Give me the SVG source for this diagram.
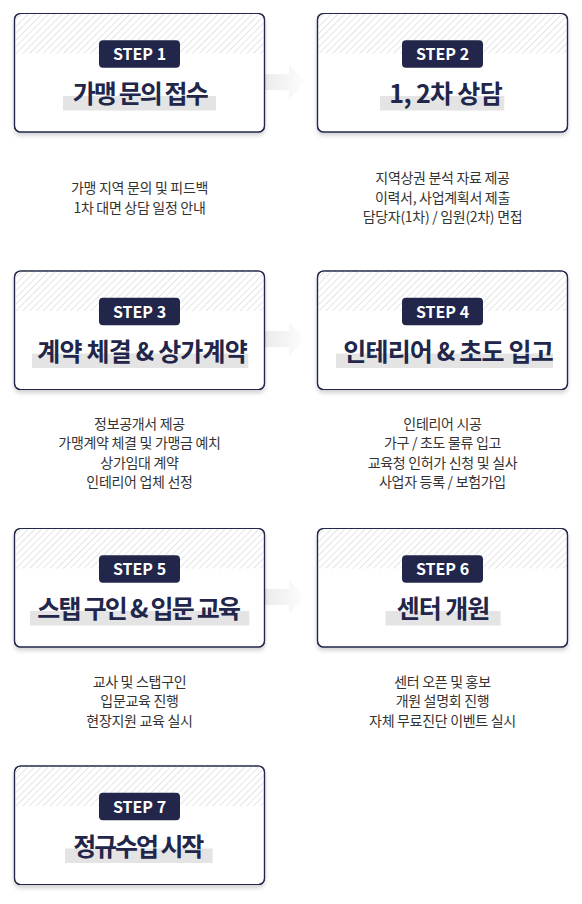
<svg xmlns="http://www.w3.org/2000/svg" width="582" height="904" viewBox="0 0 582 904">
<style>
.box{fill:#fff;stroke:#23284a;stroke-width:1.2}
.frame{fill:none;stroke:#23284a;stroke-width:1.2}
.hatch{fill:url(#hatch)}
.badge{fill:#21264a}
.badge-t{font-family:"Noto Sans CJK KR","Noto Sans",sans-serif;font-weight:700;font-size:16px;fill:#fff;text-anchor:middle}
.hl{fill:#e4e4e4}
.title{font-family:"Noto Sans CJK KR",sans-serif;font-weight:700;font-size:25px;fill:#21264a;text-anchor:middle;letter-spacing:-1px}
.desc{font-family:"Noto Sans CJK KR",sans-serif;font-size:14px;fill:#333;text-anchor:middle;letter-spacing:-0.3px}
.arrow{fill:url(#agrad)}
</style>
<defs>
<pattern id="hatch" patternUnits="userSpaceOnUse" width="4.8" height="4.8" patternTransform="rotate(45)">
<line x1="0.5" y1="0" x2="0.5" y2="4.8" stroke="#dadada" stroke-width="0.7"/>
</pattern>
<clipPath id="boxclip" clipPathUnits="userSpaceOnUse"><rect x="0" y="0" width="250" height="118.5" rx="6"/></clipPath>
<linearGradient id="agrad" x1="0" y1="0" x2="1" y2="0">
<stop offset="0.25" stop-color="#ebebeb"/>
<stop offset="1" stop-color="#fdfdfd"/>
</linearGradient>
<filter id="sh" x="-10%" y="-10%" width="120%" height="130%">
<feDropShadow dx="0" dy="3" stdDeviation="2" flood-color="#000" flood-opacity="0.18"/>
</filter>
</defs>

<g id="connectors">
<polygon class="arrow" points="250,74 289,74 289,65 305,82 289,99 289,90 250,90"/>
<polygon class="arrow" points="250,331 289,331 289,322 305,339 289,356 289,347 250,347"/>
<polygon class="arrow" points="250,589 289,589 289,580 305,597 289,614 289,605 250,605"/>
</g>

<g id="step1" transform="translate(14.5,13.5)">
<rect class="box" x="0" y="0" width="250" height="118.5" rx="6" filter="url(#sh)"/>
<rect class="hatch" x="0" y="0" width="250" height="40" clip-path="url(#boxclip)"/>
<rect class="frame" x="0" y="0" width="250" height="118.5" rx="6"/>
<rect class="badge" x="84.5" y="26.7" width="81" height="27.5" rx="4"/>
<text class="badge-t" x="125" y="46.7">STEP 1</text>
<rect class="hl" x="48.5" y="82.5" width="153" height="14.5"/>
<text class="title" x="125.7" y="89.5" textLength="135" lengthAdjust="spacing">가맹 문의 접수</text>
</g>

<g id="step2" transform="translate(317.5,13.5)">
<rect class="box" x="0" y="0" width="250" height="118.5" rx="6" filter="url(#sh)"/>
<rect class="hatch" x="0" y="0" width="250" height="40" clip-path="url(#boxclip)"/>
<rect class="frame" x="0" y="0" width="250" height="118.5" rx="6"/>
<rect class="badge" x="84.5" y="26.7" width="81" height="27.5" rx="4"/>
<text class="badge-t" x="125" y="46.7">STEP 2</text>
<rect class="hl" x="62.5" y="82.5" width="124.3" height="14.5"/>
<text class="title" x="128" y="89.5" textLength="112.4" lengthAdjust="spacing">1, 2차 상담</text>
</g>

<g id="step3" transform="translate(14.5,271)">
<rect class="box" x="0" y="0" width="250" height="118.5" rx="6" filter="url(#sh)"/>
<rect class="hatch" x="0" y="0" width="250" height="40" clip-path="url(#boxclip)"/>
<rect class="frame" x="0" y="0" width="250" height="118.5" rx="6"/>
<rect class="badge" x="84.5" y="26.7" width="81" height="27.5" rx="4"/>
<text class="badge-t" x="125" y="46.7">STEP 3</text>
<rect class="hl" x="17.5" y="82.5" width="216.3" height="14.5"/>
<text class="title" x="127.5" y="89.5" textLength="209.4" lengthAdjust="spacing">계약 체결 &amp; 상가계약</text>
</g>

<g id="step4" transform="translate(317.5,271)">
<rect class="box" x="0" y="0" width="250" height="118.5" rx="6" filter="url(#sh)"/>
<rect class="hatch" x="0" y="0" width="250" height="40" clip-path="url(#boxclip)"/>
<rect class="frame" x="0" y="0" width="250" height="118.5" rx="6"/>
<rect class="badge" x="84.5" y="26.7" width="81" height="27.5" rx="4"/>
<text class="badge-t" x="125" y="46.7">STEP 4</text>
<rect class="hl" x="18.5" y="82.5" width="217" height="14.5"/>
<text class="title" x="130.5" y="89.5" textLength="209.4" lengthAdjust="spacing">인테리어 &amp; 초도 입고</text>
</g>

<g id="step5" transform="translate(14.5,528.5)">
<rect class="box" x="0" y="0" width="250" height="118.5" rx="6" filter="url(#sh)"/>
<rect class="hatch" x="0" y="0" width="250" height="40" clip-path="url(#boxclip)"/>
<rect class="frame" x="0" y="0" width="250" height="118.5" rx="6"/>
<rect class="badge" x="84.5" y="26.7" width="81" height="27.5" rx="4"/>
<text class="badge-t" x="125" y="46.7">STEP 5</text>
<rect class="hl" x="15.5" y="82.5" width="219.3" height="14.5"/>
<text class="title" x="124.2" y="89.5" textLength="202.7" lengthAdjust="spacing">스탭 구인 &amp; 입문 교육</text>
</g>

<g id="step6" transform="translate(317.5,528.5)">
<rect class="box" x="0" y="0" width="250" height="118.5" rx="6" filter="url(#sh)"/>
<rect class="hatch" x="0" y="0" width="250" height="40" clip-path="url(#boxclip)"/>
<rect class="frame" x="0" y="0" width="250" height="118.5" rx="6"/>
<rect class="badge" x="84.5" y="26.7" width="81" height="27.5" rx="4"/>
<text class="badge-t" x="125" y="46.7">STEP 6</text>
<rect class="hl" x="68" y="82.5" width="115" height="14.5"/>
<text class="title" x="125.5" y="89.5">센터 개원</text>
</g>

<g id="step7" transform="translate(14.5,766)">
<rect class="box" x="0" y="0" width="250" height="118.5" rx="6" filter="url(#sh)"/>
<rect class="hatch" x="0" y="0" width="250" height="40" clip-path="url(#boxclip)"/>
<rect class="frame" x="0" y="0" width="250" height="118.5" rx="6"/>
<rect class="badge" x="84.5" y="26.7" width="81" height="27.5" rx="4"/>
<text class="badge-t" x="125" y="46.7">STEP 7</text>
<rect class="hl" x="50.5" y="82.5" width="147.7" height="14.5"/>
<text class="title" x="123.8" y="89.5" textLength="130" lengthAdjust="spacing">정규수업 시작</text>
</g>

<g id="desc1">
<text class="desc" x="139.5" y="193">가맹 지역 문의 및 피드백</text>
<text class="desc" x="139.5" y="212.5">1차 대면 상담 일정 안내</text>
</g>
<g id="desc2">
<text class="desc" x="442.5" y="183.3">지역상권 분석 자료 제공</text>
<text class="desc" x="442.5" y="202.8">이력서, 사업계획서 제출</text>
<text class="desc" x="442.5" y="222.3">담당자(1차) / 임원(2차) 면접</text>
</g>
<g id="desc3">
<text class="desc" x="139.5" y="428.5">정보공개서 제공</text>
<text class="desc" x="139.5" y="448">가맹계약 체결 및 가맹금 예치</text>
<text class="desc" x="139.5" y="467.5">상가임대 계약</text>
<text class="desc" x="139.5" y="487">인테리어 업체 선정</text>
</g>
<g id="desc4">
<text class="desc" x="442.5" y="428.5">인테리어 시공</text>
<text class="desc" x="442.5" y="448">가구 / 초도 물류 입고</text>
<text class="desc" x="442.5" y="467.5">교육청 인허가 신청 및 실사</text>
<text class="desc" x="442.5" y="487">사업자 등록 / 보험가입</text>
</g>
<g id="desc5">
<text class="desc" x="139.5" y="686.8">교사 및 스탭구인</text>
<text class="desc" x="139.5" y="706.3">입문교육 진행</text>
<text class="desc" x="139.5" y="725.8">현장지원 교육 실시</text>
</g>
<g id="desc6">
<text class="desc" x="442.5" y="686.8">센터 오픈 및 홍보</text>
<text class="desc" x="442.5" y="706.3">개원 설명회 진행</text>
<text class="desc" x="442.5" y="725.8">자체 무료진단 이벤트 실시</text>
</g>
</svg>
